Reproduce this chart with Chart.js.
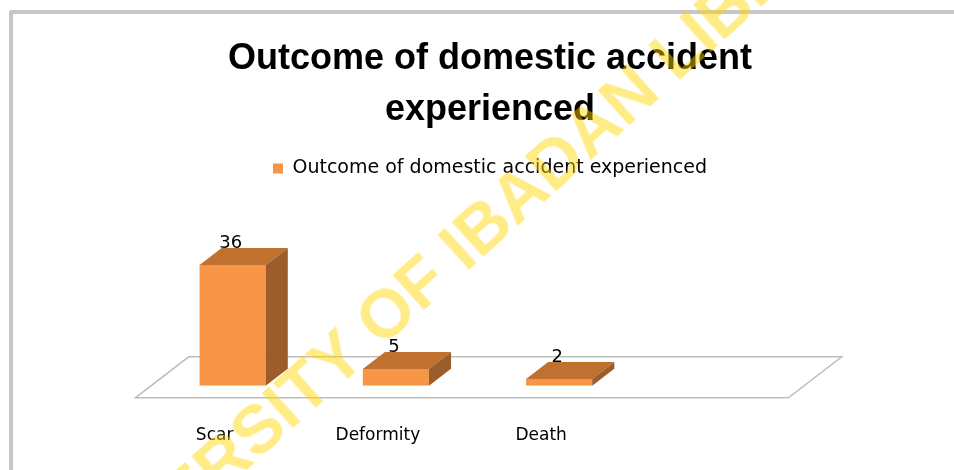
<!DOCTYPE html>
<html>
<head>
<meta charset="utf-8">
<title>Outcome of domestic accident experienced</title>
<script src="https://cdn.jsdelivr.net/npm/chart.js@4.4.0/dist/chart.umd.min.js"></script>
<style>
    html, body { margin: 0; padding: 0; background: #fff; overflow: hidden; }
    #page { position: relative; width: 954px; height: 470px; overflow: hidden; }
    #frame {
        position: absolute; left: 9px; top: 10px; width: 1000px; height: 500px;
        border-top: 4px solid #c6c6c6; border-left: 4px solid #c6c6c6;
        border-top-left-radius: 3px;
    }
    /* canvas is a bit taller than the page; the bottom is cut off like the scan */
    #chart { position: absolute; left: 0; top: 0; }
    #watermark {
        position: absolute; left: 466px; top: 240px;
        transform: translate(-50%, -50%) rotate(-42deg);
        font: bold 68px 'Liberation Sans', Arial, sans-serif;
        line-height: 1; white-space: nowrap; pointer-events: none;
        color: rgba(255, 214, 0, 0.47);
    }
</style>
</head>
<body>
<div id="page">
    <div id="frame"></div>
    <canvas id="chart" width="954" height="490"></canvas>
    <div id="watermark">UNIVERSITY OF IBADAN LIBRARY</div>
</div>
<script>
// data (4th slot is an empty category in the original sheet)
const categories = ['Scar', 'Deformity', 'Death', ''];
const outcomeCounts = [36, 5, 2];
const seriesLabel = 'Outcome of domestic accident experienced';
const titleLines = ['Outcome of domestic accident', 'experienced'];

// 3D look
const FRONT_COLOR = '#F79646';
const TOP_COLOR = '#C0712F';
const SIDE_COLOR = '#9D5D2A';
const DEPTH_RATIO = 1.3;   // dx per dy of the depth axis
const BAR_DEPTH = 17;      // px, vertical part of bar depth
const FLOOR_GAP = 12;      // px, floor margin in front of / behind the bars

function fillPoly(ctx, pts, color) {
    ctx.beginPath();
    ctx.moveTo(pts[0][0], pts[0][1]);
    pts.slice(1).forEach(p => ctx.lineTo(p[0], p[1]));
    ctx.closePath();
    ctx.fillStyle = color;
    ctx.fill();
}

/**
 * floor parallelogram under the bars
 */
const floorPlugin = {
    id: 'floor3d',
    beforeDatasetsDraw(chart) {
        const { ctx, chartArea } = chart;
        const { left, right, bottom } = chartArea;
        const frontY = bottom + FLOOR_GAP;
        const backY = bottom - BAR_DEPTH - FLOOR_GAP;
        const frontDx = -FLOOR_GAP * DEPTH_RATIO;
        const backDx = (BAR_DEPTH + FLOOR_GAP) * DEPTH_RATIO;

        ctx.save();
        ctx.beginPath();
        ctx.moveTo(left + frontDx, frontY);
        ctx.lineTo(right + frontDx, frontY);
        ctx.lineTo(right + backDx, backY);
        ctx.lineTo(left + backDx, backY);
        ctx.closePath();
        ctx.fillStyle = '#ffffff';
        ctx.fill();
        ctx.strokeStyle = '#bdbdbd';
        ctx.lineWidth = 1.5;
        ctx.stroke();
        ctx.restore();
    }
};

/**
 * top + side faces and value labels
 */
const boxPlugin = {
    id: 'box3d',
    afterDatasetsDraw(chart) {
        const { ctx } = chart;
        const dy = BAR_DEPTH;
        const dx = BAR_DEPTH * DEPTH_RATIO;
        const meta = chart.getDatasetMeta(0);
        const values = chart.data.datasets[0].data;

        ctx.save();
        meta.data.forEach((bar, i) => {
            const { x, y, base, width } = bar.getProps(['x', 'y', 'base', 'width'], true);
            const l = x - width / 2;
            const r = x + width / 2;

            fillPoly(ctx, [[l, y], [l + dx, y - dy], [r + dx, y - dy], [r, y]], TOP_COLOR);
            fillPoly(ctx, [[r, y], [r + dx, y - dy], [r + dx, base - dy], [r, base]], SIDE_COLOR);

            ctx.fillStyle = '#000';
            ctx.font = "18px 'DejaVu Sans'";
            ctx.textAlign = 'center';
            ctx.textBaseline = 'alphabetic';
            ctx.fillText(String(values[i]), x - 2, y - dy);
        });
        ctx.restore();
    }
};

const chart = new Chart(document.getElementById('chart'), {
    type: 'bar',
    data: {
        labels: categories,
        datasets: [{
            label: seriesLabel,
            data: outcomeCounts,
            backgroundColor: FRONT_COLOR,
            borderWidth: 0,
            categoryPercentage: 1,
            barPercentage: 0.405
        }]
    },
    options: {
        responsive: false,
        animation: false,
        devicePixelRatio: 1,
        layout: { padding: { top: 0, left: 151, right: 125, bottom: 3.8 } },
        plugins: {
            title: {
                display: true,
                text: titleLines,
                color: '#000',
                font: { family: "'Liberation Sans'", size: 36, weight: 'bold', lineHeight: 1.417 },
                padding: { top: 34, bottom: 13 }
            },
            legend: {
                display: true,
                labels: {
                    color: '#000',
                    boxWidth: 10,
                    boxHeight: 10,
                    padding: 10,
                    font: { family: "'DejaVu Sans'", size: 19 }
                }
            },
            tooltip: { enabled: false }
        },
        scales: {
            x: {
                grid: { display: false, drawTicks: false },
                border: { display: false },
                ticks: {
                    color: '#000',
                    font: { family: "'DejaVu Sans'", size: 17 },
                    padding: 40,
                    labelOffset: -18,
                    maxRotation: 0,
                    autoSkip: false
                }
            },
            y: {
                position: 'right',
                min: 0,
                max: 59,
                grid: { display: false, drawTicks: true, tickLength: 25 },
                border: { display: false },
                ticks: { display: false }
            }
        }
    },
    plugins: [floorPlugin, boxPlugin]
});
</script>
</body>
</html>
